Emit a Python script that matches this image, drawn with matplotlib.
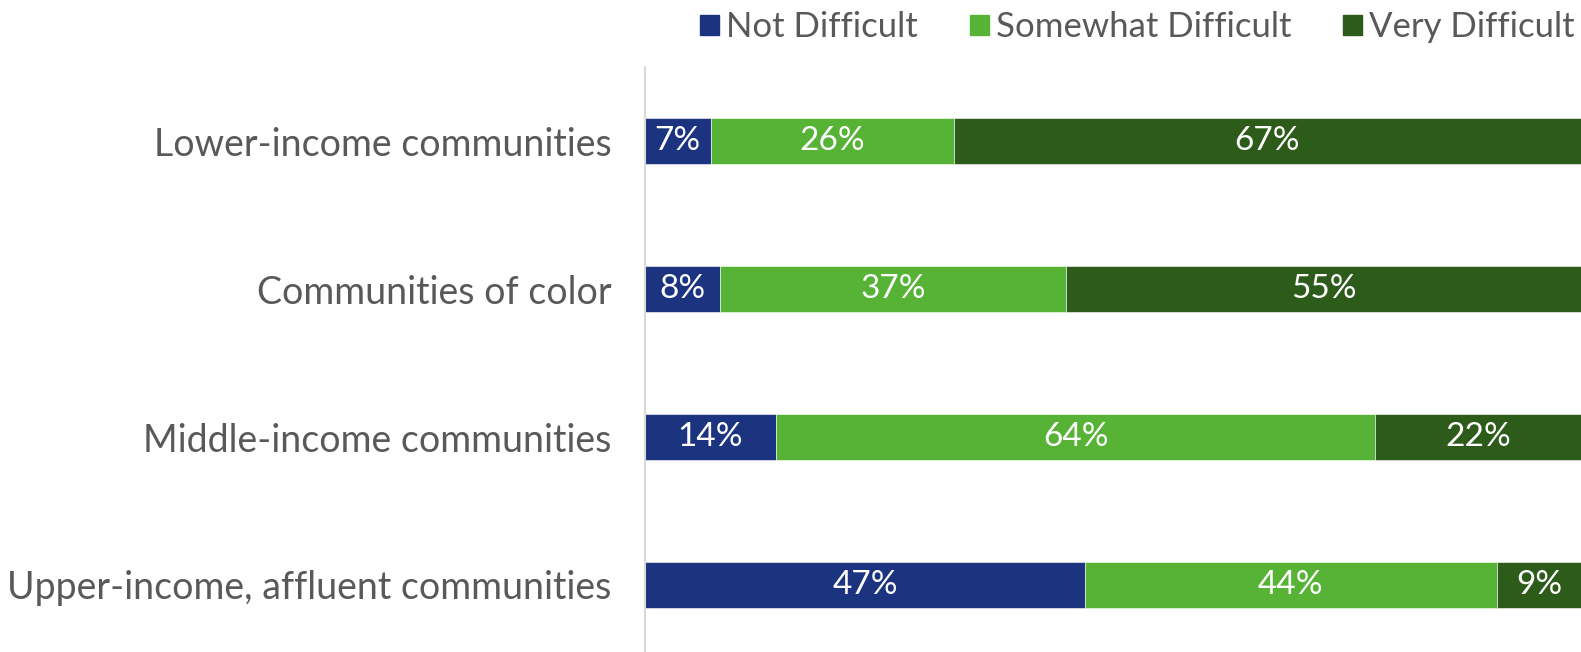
import numpy as np
import matplotlib.pyplot as plt
from matplotlib.patches import Patch

plt.rcParams['font.family'] = ['Lato', 'DejaVu Sans']

categories = ["Lower-income communities", "Communities of color",
              "Middle-income communities", "Upper-income, affluent communities"]
series_names = ["Not Difficult", "Somewhat Difficult", "Very Difficult"]
not_difficult = [7, 8, 14, 47]
somewhat_difficult = [26, 37, 64, 44]
very_difficult = [67, 55, 22, 9]

colors = ["#1C3380", "#56B336", "#2D5C1A"]
text_gray = "#595959"

W, H = 1581, 652
fig = plt.figure(figsize=(W / 100, H / 100), dpi=100)
ax = fig.add_axes([645 / W, 0, 1 - 645 / W, (H - 67) / H])

y = np.arange(len(categories))
left = np.zeros(len(categories))
for name, vals, col in zip(series_names, [not_difficult, somewhat_difficult, very_difficult], colors):
    vals = np.array(vals, dtype=float)
    ax.barh(y, vals, left=left, height=0.31, color=col, edgecolor="white", linewidth=0.4)
    for yi, l, v in zip(y, left, vals):
        ax.text(l + v / 2, yi, f"{int(v)}%", ha="center", va="center",
                color="white", fontsize=24)
    left += vals

ax.set_xlim(0, 100)
ax.set_ylim(-0.5 + (H - 67) / 148, -0.5)
ax.set_yticks(y)
ax.set_yticklabels(categories, fontsize=27, color=text_gray)
ax.tick_params(axis="y", length=0, pad=24)
ax.set_xticks([])
for s in ["top", "right", "bottom"]:
    ax.spines[s].set_visible(False)
ax.spines["left"].set_color("#D9D9D9")
ax.spines["left"].set_linewidth(1.5)

handles = [Patch(color=c) for c in colors]
leg = fig.legend(handles, series_names, loc="upper right", bbox_to_anchor=(1.005, 1.004),
                 borderaxespad=0, ncol=3, frameon=False, fontsize=25,
                 handlelength=0.55, handleheight=0.55,
                 handletextpad=0.2, columnspacing=1.5)
for t in leg.get_texts():
    t.set_color(text_gray)

fig.savefig("out.png", dpi=100)
